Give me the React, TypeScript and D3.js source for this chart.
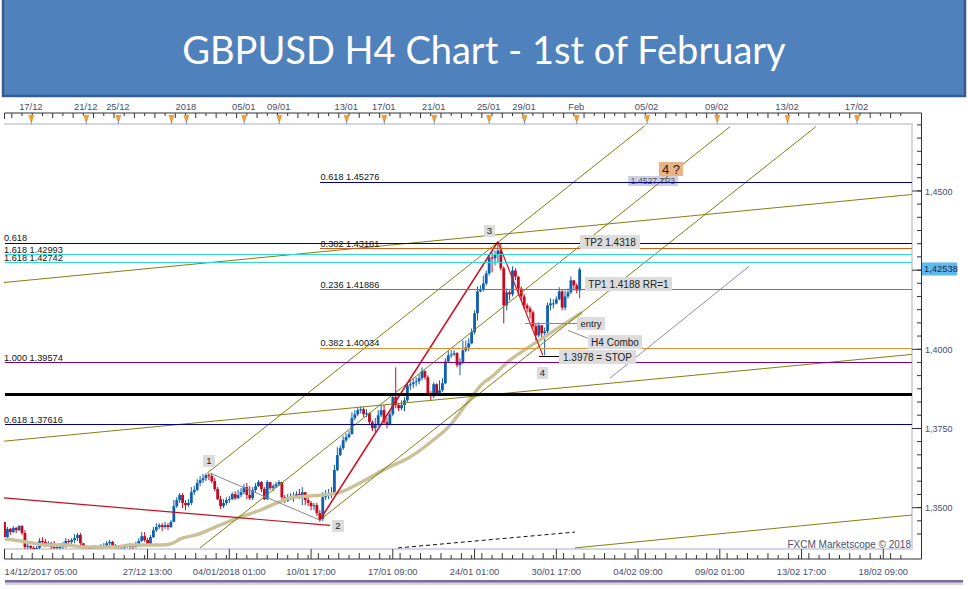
import React from 'react';
import * as d3 from 'd3';

const WIDTH = 968;
const HEIGHT = 589;

// candles, prices in pips (price * 10000), open = previous close
const firstOpen = 13455;
const closes = [
  13407, 13433, 13423, 13436, 13429, 13442, 13420, 13376, 13379, 13373, 13370, 13373, 13395, 13392, 13385, 13388, 13376, 13373, 13376, 13376,
  13379, 13395, 13392, 13398, 13404, 13414, 13388, 13376, 13373, 13370, 13373, 13376, 13373, 13376, 13379, 13388, 13392, 13382, 13376, 13373,
  13376, 13376, 13379, 13379, 13376, 13379, 13395, 13410, 13398, 13385, 13407, 13429, 13439, 13445, 13439, 13445, 13439, 13455, 13505,
  13524, 13540, 13515, 13508, 13515, 13549, 13556, 13578, 13587, 13593, 13603, 13600, 13584, 13559, 13527, 13505, 13515, 13524, 13527, 13543,
  13530, 13540, 13549, 13565, 13540, 13530, 13556, 13568, 13581, 13559, 13527, 13581, 13562, 13568, 13574, 13581, 13533, 13521, 13530, 13533,
  13537, 13543, 13540, 13549, 13524, 13515, 13505, 13508, 13483, 13464, 13533, 13537, 13540, 13546,
  13619, 13666, 13688, 13713, 13723, 13732, 13783, 13795, 13808, 13811, 13795, 13798, 13770, 13751, 13764, 13792, 13808, 13770, 13764, 13795,
  13849, 13824, 13814, 13824, 13839, 13886, 13890, 13896, 13899, 13909, 13931, 13912, 13861, 13852, 13890, 13861, 13871, 13893, 13962, 13981,
  13984, 13988, 13950, 13959, 13997, 14006,
  14019, 14054, 14114, 14183, 14189, 14208, 14240, 14290, 14287, 14300, 14312, 14256, 14139, 14180, 14174, 14249, 14230, 14192, 14167, 14139,
  14129, 14117, 14073, 14044, 14076, 14051, 14057, 14139, 14145, 14145, 14158, 14183, 14132, 14167, 14180, 14218, 14202, 14186, 14252,
];
const highs = [
  13455, 13439, 13436, 13442, 13439, 13445, 13445, 13429, 13395, 13382, 13379, 13379, 13404, 13407, 13401, 13395, 13392, 13395, 13385, 13388,
  13392, 13404, 13401, 13404, 13417, 13420, 13420, 13382, 13379, 13379, 13379, 13382, 13379, 13385, 13388, 13395, 13398, 13395, 13385, 13382,
  13382, 13382, 13385, 13388, 13385, 13392, 13404, 13423, 13423, 13404, 13414, 13439, 13451, 13451, 13451, 13455, 13451, 13461, 13524,
  13533, 13546, 13546, 13524, 13527, 13565, 13568, 13590, 13600, 13606, 13609, 13609, 13609, 13593, 13565, 13537, 13527, 13533, 13537, 13549,
  13552, 13556, 13562, 13574, 13578, 13568, 13565, 13578, 13587, 13584, 13565, 13587, 13581, 13574, 13581, 13587, 13581, 13540, 13543, 13546,
  13549, 13552, 13559, 13565, 13549, 13533, 13521, 13515, 13515, 13492, 13549, 13556, 13559, 13565,
  13634, 13691, 13697, 13726, 13735, 13742, 13801, 13808, 13817, 13820, 13817, 13811, 13801, 13776, 13783, 13808, 13824, 13824, 13783, 13808,
  13858, 13943, 13830, 13839, 13849, 13896, 13902, 13909, 13912, 13921, 13943, 13934, 13918, 13868, 13896, 13893, 13902, 13909, 13972, 13994,
  13997, 13997, 13991, 13972, 14028, 14028,
  14035, 14066, 14123, 14199, 14202, 14233, 14249, 14300, 14306, 14312, 14334, 14334, 14262, 14192, 14186, 14262, 14256, 14230, 14199, 14174,
  14145, 14136, 14123, 14082, 14085, 14076, 14069, 14148, 14161, 14158, 14167, 14196, 14189, 14186, 14192, 14230, 14218, 14208, 14259,
];
const lows = [
  13407, 13404, 13414, 13420, 13420, 13426, 13414, 13366, 13366, 13363, 13360, 13363, 13370, 13385, 13376, 13379, 13366, 13363, 13366, 13366,
  13370, 13373, 13379, 13385, 13388, 13395, 13376, 13370, 13366, 13363, 13366, 13370, 13363, 13366, 13370, 13373, 13379, 13376, 13370, 13366,
  13366, 13370, 13373, 13370, 13366, 13373, 13376, 13392, 13392, 13379, 13382, 13404, 13423, 13433, 13426, 13433, 13429, 13436, 13455,
  13499, 13515, 13499, 13492, 13502, 13508, 13540, 13552, 13568, 13578, 13584, 13587, 13578, 13552, 13524, 13496, 13499, 13508, 13515, 13524,
  13524, 13527, 13533, 13543, 13527, 13524, 13524, 13549, 13565, 13549, 13524, 13524, 13556, 13552, 13562, 13568, 13527, 13515, 13518, 13524,
  13518, 13530, 13527, 13508, 13508, 13505, 13492, 13492, 13474, 13455, 13458, 13524, 13527, 13530,
  13546, 13615, 13663, 13682, 13707, 13719, 13732, 13776, 13789, 13798, 13786, 13786, 13760, 13742, 13738, 13757, 13786, 13764, 13751, 13760,
  13789, 13814, 13805, 13808, 13805, 13833, 13871, 13877, 13883, 13890, 13902, 13905, 13855, 13839, 13846, 13855, 13858, 13865, 13890, 13959,
  13972, 13978, 13943, 13918, 13953, 13991,
  13994, 14016, 14047, 14091, 14180, 14183, 14202, 14233, 14243, 14265, 14274, 14249, 14082, 14123, 14155, 14167, 14218, 14170, 14155, 14126,
  14117, 14098, 14066, 14028, 14038, 14038, 13981, 14050, 14123, 14129, 14142, 14155, 14123, 14123, 14161, 14174, 14186, 14177, 14161,
];

// H4 Combo moving average
const maBars = [0.2, 5.3, 9.8, 13.2, 21.4, 26.9, 38.5, 43, 54.3, 57.7, 60.1, 65.6, 73.8, 80.7, 87.5, 93.3, 98.8, 104.6, 113.9, 121.7, 131, 138.9, 146.8, 152.6, 158.4, 163.9, 166.3, 173.1, 178.9, 185.8, 192.6, 197.8];
const maPips = [13401, 13395, 13388, 13382, 13382, 13376, 13376, 13382, 13382, 13388, 13401, 13414, 13445, 13470, 13492, 13515, 13533, 13537, 13546, 13578, 13625, 13660, 13713, 13760, 13830, 13893, 13909, 13966, 14003, 14044, 14085, 14117];

// horizontal levels
const levelPrices = [1.45276, 1.43344, 1.43181, 1.42993, 1.42742, 1.41886, 1.40034, 1.39574, 1.38567, 1.37616];
const levelStarts = [108, 0, 108, 0, 0, 108, 108, 0, 0, 0];
const levelLabels = ['0.618 1.45276', '0.618', '0.382 1.43181', '1.618 1.42993', '1.618 1.42742', '0.236 1.41886', '0.382 1.40034', '1.000 1.39574', '', '0.618 1.37616'];
const levelColors = ['#000080', '#000080', '#C8601A', '#30D8D8', '#30D8D8', '#7070A0', '#E09030', '#800080', '#000000', '#000080'];
const levelWidths = [1, 1, 1, 1, 1, 1, 1, 1, 3, 1];

// trend lines: bar1, pips1, bar2, pips2
const channelLines = [
  [69.4, 13609, 219.3, 14706],
  [67, 13373, 248.5, 14703],
  [108, 13461, 277.9, 14703],
  [-0.2, 14211, 310.8, 14489],
  [-0.2, 13710, 310.8, 13984],
  [195.4, 13373, 310.8, 13477],
];
const thinLine = [207.4, 13909, 255, 14262];
const redLine = [-0.2, 13531, 111.5, 13444];
const dashedLine = [134.8, 13373, 195.4, 13423];
const wave12 = [70.4, 13609, 108, 13461];
const wave23 = [108, 13461, 169, 14340];
const wave34 = [169, 14340, 184.4, 13981];
const entryLine = [178.3, 14082, 196.2, 14082];
const stopLine = [183, 13978, 190, 13978];
const comboLink = [193, 14060, 199.8, 14035];

// axes
const bottomTickBars = [0, 49, 77, 105, 133, 161, 189, 217, 245, 273, 301];
const bottomTickLabels = ['14/12/2017 05:00', '27/12 13:00', '04/01/2018 01:00', '10/01 17:00', '17/01 09:00', '24/01 01:00', '30/01 17:00', '04/02 09:00', '09/02 01:00', '13/02 17:00', '18/02 09:00'];
const topTickBars = [9.2, 28, 39, 57.2, 62.3, 82.1, 94.1, 117.2, 130.1, 147.2, 166, 178.1, 196, 220.1, 244.1, 268.2, 292];
const topTickLabels = ['17/12', '21/12', '25/12', '', '2018', '05/01', '09/01', '13/01', '17/01', '21/01', '25/01', '29/01', 'Feb', '05/02', '09/02', '13/02', '17/02'];
const priceTicks = [1.35, 1.375, 1.4, 1.425, 1.45];
const priceLabels = ['1,3500', '1,3750', '1,4000', '', '1,4500'];
const lastPrice = 1.42538;

const x = d3.scaleLinear().domain([0, 301]).range([4.5, 883.3]);
const y = d3.scaleLinear().domain([1.35, 1.45]).range([507.7, 191]);
const yp = (pips: number) => y(pips / 10000);

const BLUE = '#0F5FB0';
const RED = '#C8081C';
const AXIS = '#333';
const AXIS_TEXT = '#474d6e';
const FONT = '"Liberation Sans", Arial, sans-serif';

const PLOT = { left: 4, right: 912, top: 124, bottom: 549 };

const segment = (s: number[]) => ({ x1: x(s[0]), y1: yp(s[1]), x2: x(s[2]), y2: yp(s[3]) });

const minorBars = d3.range(-1, 310, 3.5).filter(b => x(b) >= 4.5 && x(b) <= 921);
const minorPrices = d3.range(1.3417, 1.4751, 0.025 / 6).filter(p => y(p) > 114 && y(p) < 558);

const Box = ({ bx, by, w, h, text, size = 10, fill = '#DCDCDC', color = '#222' }: any) => (
  <g>
    <rect x={bx} y={by} width={w} height={h} fill={fill} />
    <text x={bx + w / 2} y={by + h / 2 + size * 0.36} fontSize={size} fill={color} textAnchor="middle" fontFamily={FONT}>{text}</text>
  </g>
);

export default function App() {
  const maLine = d3.line<number>()
    .x(d => x(maBars[d]))
    .y(d => yp(maPips[d]))
    .curve(d3.curveMonotoneX);

  return (
    <div style={{ position: 'absolute', left: 0, top: 0 }}>
      <svg width={WIDTH} height={HEIGHT} style={{ display: 'block', background: '#fff' }}>
        <defs>
          <clipPath id="plot">
            <rect x={PLOT.left} y={PLOT.top} width={PLOT.right - PLOT.left} height={PLOT.bottom - PLOT.top} />
          </clipPath>
        </defs>

        {/* title banner */}
        <rect x={3} y={-4} width={962} height={100} fill="#4F81BD" stroke="#385D8A" strokeWidth={2.5} />
        <text x={484} y={64} fontSize={38} fill="#fff" textAnchor="middle" fontFamily="Lato, sans-serif">GBPUSD H4 Chart - 1st of February</text>

        {/* plot frame */}
        <path d={`M${PLOT.left},${PLOT.top}H${PLOT.right}V${PLOT.bottom}H${PLOT.left}`} fill="none" stroke="#D4D6E2" strokeWidth={2} />

        {/* top axis */}
        <path d={`M4.5,119V113H921.5V559H4.5V550`} fill="none" stroke={AXIS} strokeWidth={1} />
        {minorBars.map((b, i) => (
          <line key={i} x1={x(b)} x2={x(b)} y1={113} y2={i % 2 ? 116 : 118} stroke={AXIS} strokeWidth={1} />
        ))}
        {topTickBars.map((b, i) => (
          <g key={i}>
            <path d={`M${x(b) - 3},115H${x(b) + 3}L${x(b) + 1},121H${x(b) - 1}Z`} fill="#F0A030" />
            <line x1={x(b)} x2={x(b)} y1={120} y2={124} stroke="#8a8aa0" strokeWidth={1} />
            <text x={x(b) - 0.5} y={110} fontSize={9.4} fill={AXIS_TEXT} textAnchor="middle" fontFamily={FONT}>{topTickLabels[i]}</text>
          </g>
        ))}

        {/* bottom axis */}
        {minorBars.map((b, i) => (
          <line key={i} x1={x(b)} x2={x(b)} y1={559} y2={i % 2 ? 555 : 553} stroke={AXIS} strokeWidth={1} />
        ))}
        {bottomTickBars.map((b, i) => (
          <g key={i}>
            <line x1={x(b)} x2={x(b)} y1={559} y2={549} stroke={AXIS} strokeWidth={1} />
            <text x={x(b)} y={575} fontSize={9.4} fill={AXIS_TEXT} textAnchor={i === 0 ? 'start' : 'middle'} fontFamily={FONT}>{bottomTickLabels[i]}</text>
          </g>
        ))}

        {/* right axis */}
        {minorPrices.map((p, i) => (
          <line key={i} x1={917} x2={921.5} y1={y(p)} y2={y(p)} stroke={AXIS} strokeWidth={1} />
        ))}
        {priceTicks.map((p, i) => (
          <g key={i}>
            <line x1={912} x2={921.5} y1={y(p)} y2={y(p)} stroke={AXIS} strokeWidth={1} />
            <text x={925} y={y(p) + 3.5} fontSize={9} fill={AXIS_TEXT} fontFamily={FONT}>{priceLabels[i]}</text>
          </g>
        ))}
        <rect x={922} y={y(lastPrice) - 6.5} width={35} height={13} fill="#5CB9F2" />
        <text x={924} y={y(lastPrice) + 3.5} fontSize={9.4} fill="#1e2a44" fontFamily={FONT}>1,42538</text>

        <text x={911} y={548} fontSize={10} fill="#4a5070" textAnchor="end" fontFamily={FONT}>FXCM Marketscope © 2018</text>

        <g clipPath="url(#plot)">
          {/* candles */}
          {closes.map((c, i) => {
            const open = i === 0 ? firstOpen : closes[i - 1];
            const color = c >= open ? BLUE : RED;
            const top = yp(Math.max(open, c));
            const bottom = yp(Math.min(open, c));
            return (
              <g key={i}>
                <line x1={x(i)} x2={x(i)} y1={yp(highs[i])} y2={yp(lows[i])} stroke={color} strokeWidth={1} />
                <rect x={x(i) - 1.4} y={top} width={2.8} height={Math.max(bottom - top, 1)} fill={color} />
              </g>
            );
          })}
          <path d={maLine(d3.range(maBars.length)) ?? ''} fill="none" stroke="#C9C298" strokeWidth={3.4} />
        </g>

        {/* TP3 sits under the level line */}
        <Box bx={628} by={176} w={50} h={10} text="1.4527 TP3" size={8.6} fill="#CFCFE4" color="#555" />

        <g clipPath="url(#plot)">
          {channelLines.map((s, i) => (
            <line key={i} {...segment(s)} stroke="#808012" strokeWidth={1} />
          ))}
          <line {...segment(thinLine)} stroke="#8f8fa8" strokeWidth={1} />
          <line {...segment(redLine)} stroke="#C01020" strokeWidth={1.2} />
          <line {...segment(dashedLine)} stroke="#111" strokeWidth={1} strokeDasharray="4 3" />
          <line {...segment(wave12)} stroke="#8a8a8a" strokeWidth={1} />
          <line {...segment(wave23)} stroke="#D01020" strokeWidth={1.6} />
          <line {...segment(wave34)} stroke="#D01020" strokeWidth={1.2} />

          {levelPrices.map((p, i) => (
            <line key={i} x1={x(levelStarts[i])} x2={PLOT.right} y1={y(p)} y2={y(p)} stroke={levelColors[i]} strokeWidth={levelWidths[i]} shapeRendering="crispEdges" />
          ))}

          <line {...segment(entryLine)} stroke="#888" strokeWidth={1} shapeRendering="crispEdges" />
          <line {...segment(stopLine)} stroke="#000" strokeWidth={1.4} shapeRendering="crispEdges" />
          <line {...segment(comboLink)} stroke="#888" strokeWidth={1} />
        </g>

        {/* level captions */}
        {levelPrices.map((p, i) => (
          <text key={i} x={levelStarts[i] === 0 ? 4 : 320.5} y={y(p) - 2} fontSize={9.2} fill="#111" fontFamily={FONT}>{levelLabels[i]}</text>
        ))}

        {/* annotations */}
        <Box bx={203} by={455} w={12} h={12} text="1" size={9.5} />
        <Box bx={332} by={520} w={12} h={12} text="2" size={9.5} />
        <Box bx={484} by={225} w={11} h={12} text="3" size={9.5} />
        <Box bx={537} by={367} w={11} h={12} text="4" size={9.5} />
        <Box bx={580} by={235} w={60} h={14} text="TP2  1.4318" />
        <Box bx={585} by={277} w={87} h={14} text="TP1  1.4188 RR=1" />
        <Box bx={577} by={317} w={28} h={13} text="entry" size={9.5} />
        <Box bx={588} by={335} w={54} h={14} text="H4 Combo" />
        <Box bx={559} by={350} w={77} h={14} text="1.3978 = STOP" />
        <Box bx={659} by={162} w={24} h={14} text="4 ?" size={13} fill="#E8B483" />

        {/* bottom edge of the slide */}
        <rect x={5} y={582.5} width={958} height={2.5} fill="#D5D5DA" />
        <rect x={5} y={580} width={958} height={2.6} fill="#7A6D9C" />
      </svg>
    </div>
  );
}
